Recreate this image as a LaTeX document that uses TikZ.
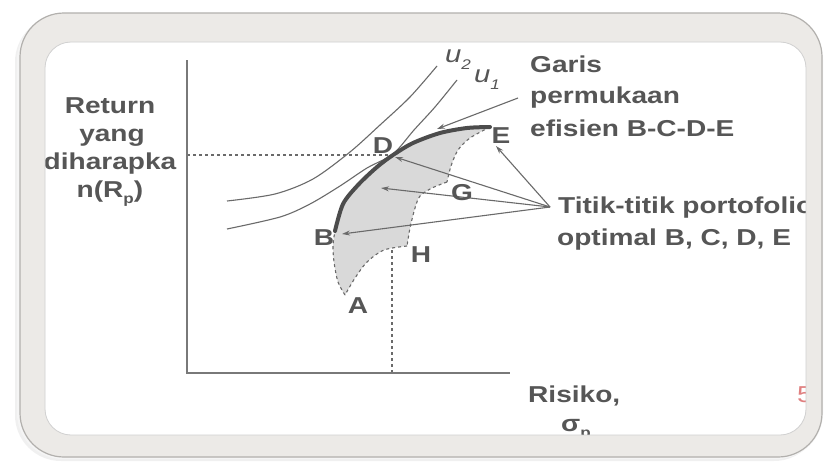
\documentclass[tikz,border=0pt]{standalone}
\usepackage{fontspec}
\setmainfont{Liberation Sans}[FakeStretch=1.22]
\usetikzlibrary{arrows.meta}
\definecolor{txt}{HTML}{565656}
\definecolor{ln}{HTML}{6A6A6A}
\definecolor{band}{HTML}{ECEAE7}
\definecolor{bandline}{HTML}{B2B0AD}
\definecolor{regionfill}{HTML}{D9D9D9}
\definecolor{front}{HTML}{4C4C4C}
\definecolor{pagenum}{HTML}{E08080}
\tikzset{
  lbl/.style={inner sep=0pt, text=txt, font=\fontsize{23}{27}\selectfont\bfseries},
  ulbl/.style={inner sep=0pt, text=txt, font=\fontsize{24}{27}\selectfont\itshape},
  thin/.style={draw=ln, line width=1.1pt},
  dsh/.style={draw=ln, line width=1.1pt, dash pattern=on 3pt off 3pt},
  ptr/.style={draw=ln, line width=1.1pt, -{Stealth[length=8pt,width=5pt]}},
  axis/.style={draw=ln!90, line width=1.6pt},
}
\begin{document}
\begin{tikzpicture}[x=1pt,y=-1pt]
\useasboundingbox (0,0) rectangle (825,461);
\fill[white] (0,0) rectangle (825,461);
% shadow
\fill[black!6, rounded corners=46pt] (15,16) rectangle (820,461);
\fill[black!4, rounded corners=46pt] (17,14) rectangle (823,459);
% frame base
\fill[band, rounded corners=44pt] (20,13) rectangle (822,457);
\fill[white, rounded corners=26pt] (45,42) rectangle (806,435);

% points
\coordinate (O) at (187,373);
\coordinate (Ytop) at (187,60);
\coordinate (Xend) at (510,373);
\coordinate (B) at (335,231);
\coordinate (D) at (393,155);
\coordinate (E) at (490,127);
\coordinate (G) at (447,182);
\coordinate (H) at (407,246);
\coordinate (A) at (345,295);
\coordinate (Dy) at (187,155);
\coordinate (Hx) at (392,250);
\coordinate (Hb) at (392,373);
\coordinate (P) at (550,207);
\coordinate (aE) at (496,146);
\coordinate (aD) at (395,157);
\coordinate (aC) at (381,188);
\coordinate (aB) at (342,234);
\coordinate (gS) at (518,98);
\coordinate (gT) at (437,129);

% feasible region
\fill[regionfill] plot[smooth] coordinates {(335,231) (343,204) (358,185) (377,167) (393,155) (413,143) (440,133) (467,128) (490,127)}
  -- plot[smooth] coordinates {(490,127) (470,138) (458,150) (451,166) (447,182)}
  -- plot[smooth] coordinates {(447,182) (432,188) (420,196) (415,208) (410,228) (407,246)}
  -- plot[smooth] coordinates {(407,246) (384,250) (367,262) (355,278) (345,295)}
  -- plot[smooth] coordinates {(345,295) (338,282) (334,262) (333,245) (335,231)} -- cycle;

% dashed boundary
\draw[dsh] plot[smooth] coordinates {(490,127) (470,138) (458,150) (451,166) (447,182)};
\draw[dsh] plot[smooth] coordinates {(447,182) (432,188) (420,196) (415,208) (410,228) (407,246)};
\draw[dsh] plot[smooth] coordinates {(407,246) (384,250) (367,262) (355,278) (345,295)};
\draw[dsh] plot[smooth] coordinates {(345,295) (338,282) (334,262) (333,245) (335,231)};

% guide lines
\draw[dsh] (Dy) -- (D);
\draw[dsh] (Hx) -- (Hb);

% indifference curves
\draw[thin] plot[smooth] coordinates {(227,201) (275,194) (313,179) (350,152) (380,125) (410,97) (437,66)};
\draw[thin] plot[smooth] coordinates {(227,229) (280,217) (310,204) (340,186) (367,168) (393,154) (414,130) (435,107) (457,80)};

% axes
\draw[axis] (Ytop) -- (O) -- (Xend);

% efficient frontier
\draw[front, line width=4pt, line cap=round] plot[smooth] coordinates {(335,231) (343,204) (358,185) (377,167) (393,155) (413,143) (440,133) (467,128) (490,127)};

% pointers
\draw[ptr] (P) -- (aE);
\draw[ptr] (P) -- (aD);
\draw[ptr] (P) -- (aC);
\draw[ptr] (P) -- (aB);
\draw[ptr] (gS) -- (gT);

% labels
\node[lbl, anchor=base] (lD) at (383,153) {D};
\node[lbl, anchor=base] (lE) at (501,143) {E};
\node[lbl, anchor=base] (lG) at (462,200) {G};
\node[lbl, anchor=base] (lB) at (324,245) {B};
\node[lbl, anchor=base] (lH) at (421,262) {H};
\node[lbl, anchor=base] (lA) at (358,313) {A};
\node[ulbl, anchor=base] (u2) at (458,62) {u\raisebox{-0.3em}{\fontsize{14}{14}\selectfont 2}};
\node[ulbl, anchor=base] (u1) at (487,82) {u\raisebox{-0.3em}{\fontsize{14}{14}\selectfont 1}};

\node[lbl, anchor=base] (r1) at (110,113) {Return};
\node[lbl, anchor=base] (r2) at (112,141) {yang};
\node[lbl, anchor=base] (r3) at (110,169) {diharapka};
\node[lbl, anchor=base] (r4) at (110,197) {n(R\raisebox{-0.3em}{\fontsize{14}{14}\selectfont p})};

\node[lbl, anchor=base west] (g1) at (530,72) {Garis};
\node[lbl, anchor=base west] (g2) at (530,103) {permukaan};
\node[lbl, anchor=base west] (g3) at (530,136) {efisien B-C-D-E};

\node[lbl, anchor=base west] (t1) at (558,213) {Titik-titik portofolio};
\node[lbl, anchor=base west] (t2) at (557,245) {optimal B, C, D, E};

\node[lbl, anchor=base west] (x1) at (528,402) {Risiko,};
\node[lbl, anchor=base west] (x2) at (561,431) {σ\raisebox{-0.3em}{\fontsize{14}{14}\selectfont p}};
\node[lbl, anchor=base west, text=pagenum, font=\fontsize{23}{27}\selectfont] (pg) at (797,402) {5};

% frame band on top
\fill[band, even odd rule] [rounded corners=44pt] (20,13) rectangle (822,457) [rounded corners=26pt] (45,42) rectangle (806,435);
\draw[bandline, line width=1.2pt, rounded corners=44pt] (20,13) rectangle (822,457);
\draw[black!18, line width=0.8pt, rounded corners=26pt] (45,42) rectangle (806,435);
\end{tikzpicture}
\end{document}
